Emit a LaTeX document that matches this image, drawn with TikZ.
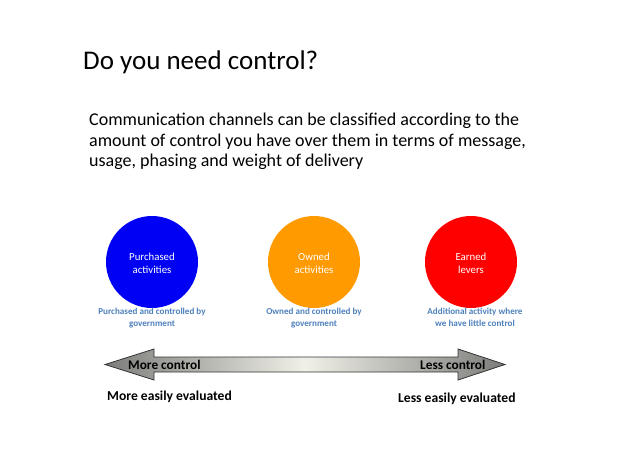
\documentclass[tikz,border=0pt]{standalone}
\usepackage{fontspec}
\setmainfont{Carlito}
\begin{document}
\begin{tikzpicture}[x=1pt,y=-1pt,
  txt/.style={inner sep=0pt,anchor=base west},
  ctxt/.style={inner sep=0pt,anchor=base,align=center},
  ball/.style={circle,minimum size=92pt,inner sep=0pt},
  balltext/.style={ctxt,text=white,font=\fontsize{10.8}{12.5}\selectfont},
  caption/.style={ctxt,text=capcol,font=\bfseries\fontsize{9.1}{12}\selectfont},
  armlabel/.style={inner sep=0pt,anchor=base west,font=\bfseries\fontsize{13.3}{16}\selectfont},
  evallabel/.style={inner sep=0pt,anchor=base west,font=\bfseries\fontsize{13.6}{16}\selectfont},
  bodytext/.style={txt,font=\fontsize{18}{21}\selectfont}]
\definecolor{capcol}{HTML}{4F81BD}
\definecolor{ballblue}{HTML}{0000F5}
\definecolor{ballorange}{HTML}{FF9A00}
\definecolor{ballred}{HTML}{FF0000}
\definecolor{arrowend}{HTML}{7C7C7A}
\definecolor{arrowmid}{HTML}{F0F0E8}
\useasboundingbox (0,0) rectangle (638,451);
\fill[white] (0,0) rectangle (638,451);

% title
\node[txt,font=\fontsize{27}{32}\selectfont] (title) at (83,69) {Do you need control?};

% body
\node[bodytext] (body1) at (89,125) {Communication channels can be classified according to the};
\node[bodytext] (body2) at (89,146) {amount of control you have over them in terms of message,};
\node[bodytext] (body3) at (89,166.5) {usage, phasing and weight of delivery};

% circles
\node[ball,fill=ballblue] (purch) at (152,262) {};
\node[ball,fill=ballorange] (owned) at (314,262) {};
\node[ball,fill=ballred] (earned) at (471,262) {};

% multi-line nodes: base anchor sits on the last line
\node[balltext] (purcht) at (152,273) {Purchased\\activities};
\node[balltext] (ownedt) at (314,273) {Owned\\activities};
\node[balltext] (earnedt) at (471,273) {Earned\\levers};

% captions
\node[caption] (purchc) at (152,326) {Purchased and controlled by\\government};
\node[caption] (ownedc) at (314,326) {Owned and controlled by\\government};
\node[caption] (earnedc) at (475,326) {Additional activity where\\we have little control};

% double arrow
\path[draw=black!80,line width=0.8pt,line join=miter,
  left color=arrowend,right color=arrowend,middle color=arrowmid]
  (105,364.5) -- (154,349) -- (154,357) -- (458,357) -- (458,349) -- (505,364.5)
  -- (458,380) -- (458,372) -- (154,372) -- (154,380) -- cycle;

\node[armlabel] (more) at (128,369) {More control};
\node[armlabel] (less) at (420,369) {Less control};

\node[evallabel] (moreeval) at (107,400) {More easily evaluated};
\node[evallabel] (lesseval) at (398,402) {Less easily evaluated};
\end{tikzpicture}
\end{document}
